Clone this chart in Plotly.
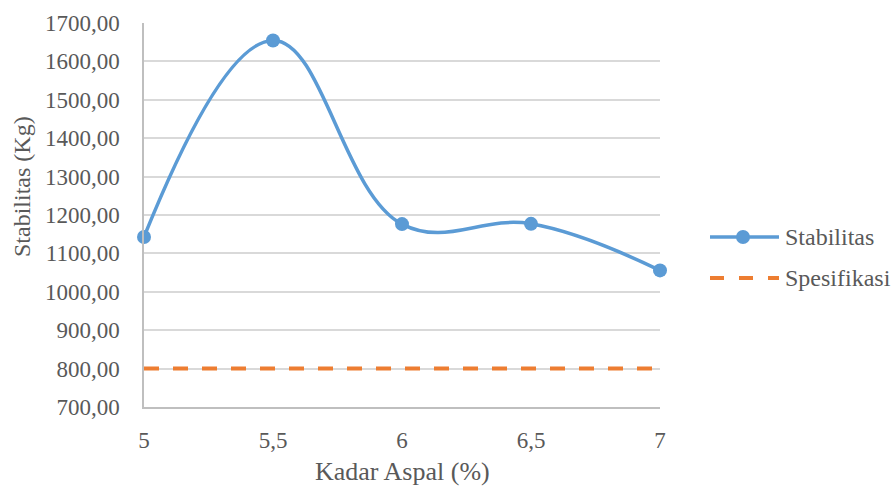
import plotly.graph_objects as go

# Marshall test results: stability vs. asphalt content
kadar_aspal = [5, 5.5, 6, 6.5, 7]
stabilitas = [1142.8, 1654.6, 1176.3, 1177.0, 1055.7]
spesifikasi = [800, 800, 800, 800, 800]

x_ticks = [5, 5.5, 6, 6.5, 7]
x_tick_labels = ["5", "5,5", "6", "6,5", "7"]

BLUE = "#5B9BD5"
ORANGE = "#ED7D31"
TEXT = "#595959"
GRID = "#D9D9D9"
AXIS = "#BFBFBF"
FONT = "Liberation Serif"

W, H = 894, 487
L, R, T, B = 144, 660, 23, 407

def px(xp):
    return (xp - L) / (R - L)

def py(yp):
    return (B - yp) / (B - T)

fig = go.Figure()
fig.add_trace(go.Scatter(
    x=kadar_aspal, y=spesifikasi, name="Spesifikasi",
    mode="lines",
    line=dict(color=ORANGE, width=4, dash="15px,14px"),
    showlegend=False, cliponaxis=False,
))
fig.add_trace(go.Scatter(
    x=kadar_aspal, y=stabilitas, name="Stabilitas",
    mode="lines+markers",
    line=dict(color=BLUE, width=3.5, shape="spline", smoothing=1.15),
    marker=dict(color=BLUE, size=14),
    showlegend=False, cliponaxis=False,
))

# Legend drawn on the right side
shapes = []
annotations = []
leg_x0, leg_x1 = 710, 779
for name, yy, color, dashed in [("Stabilitas", 237, BLUE, False),
                                ("Spesifikasi", 278, ORANGE, True)]:
    shapes.append(dict(
        type="line", xref="paper", yref="paper",
        x0=px(leg_x0), x1=px(leg_x1), y0=py(yy), y1=py(yy),
        line=dict(color=color, width=4 if dashed else 3.5,
                  dash="14px,15px" if dashed else "solid"),
    ))
    if not dashed:
        r = 7
        shapes.append(dict(
            type="circle", xref="paper", yref="paper",
            x0=px(743 - r), x1=px(743 + r), y0=py(yy + r), y1=py(yy - r),
            fillcolor=color, line=dict(width=0),
        ))
    annotations.append(dict(
        text=name, xref="paper", yref="paper",
        x=px(783), y=py(yy), xanchor="left", yanchor="middle",
        showarrow=False, font=dict(family=FONT, size=24, color=TEXT),
    ))

# Axis titles
annotations.append(dict(
    text="Stabilitas (Kg)", xref="paper", yref="paper",
    x=px(22), y=py(187), xanchor="center", yanchor="middle",
    textangle=-90, showarrow=False,
    font=dict(family=FONT, size=24, color=TEXT),
))
annotations.append(dict(
    text="Kadar Aspal (%)", xref="paper", yref="paper",
    x=px(402), y=py(471), xanchor="center", yanchor="middle",
    showarrow=False, font=dict(family=FONT, size=26, color=TEXT),
))

fig.update_layout(
    width=W, height=H,
    margin=dict(l=L, r=W - R, t=T, b=H - B, pad=0),
    paper_bgcolor="white", plot_bgcolor="white",
    separators=",.",
    font=dict(family=FONT, size=23, color=TEXT),
    shapes=shapes, annotations=annotations,
    showlegend=False,
)
fig.update_xaxes(
    range=[5, 7], tickvals=x_ticks, ticktext=x_tick_labels,
    showgrid=False, zeroline=False, automargin=False,
    showline=True, linecolor=AXIS, linewidth=1.5,
    ticks="", ticklabelstandoff=12,
)
fig.update_yaxes(
    range=[700, 1700], dtick=100, tick0=700, tickformat=".2f",
    showgrid=True, gridcolor=GRID, gridwidth=1.5, zeroline=False,
    automargin=False,
    showline=True, linecolor=AXIS, linewidth=1.5,
    ticks="", ticklabelstandoff=18,
)

fig.write_html("out.html")
